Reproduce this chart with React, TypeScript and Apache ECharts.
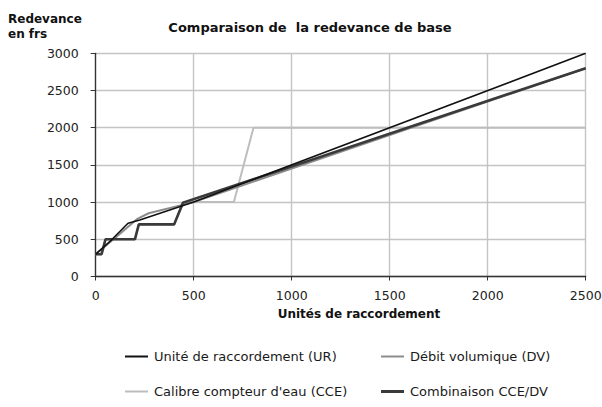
import React, { useEffect, useRef } from "react";
import * as echarts from "echarts";

const titleText = "Comparaison de  la redevance de base";
const yAxisTitle = ["Redevance", "en frs"];
const xAxisTitle = "Unités de raccordement";

const seriesNames = [
  "Unité de raccordement (UR)",
  "Débit volumique (DV)",
  "Calibre compteur d'eau (CCE)",
  "Combinaison CCE/DV",
];

// [units, redevance]
const urPoints = [
  [0, 300], [80, 490], [165, 715], [225, 760], [500, 1000], [2500, 3000],
];
const dvPoints = [
  [0, 300], [100, 520], [210, 770], [270, 850], [500, 1000], [2500, 2800],
];
const ccePoints = [
  [0, 300], [30, 300], [50, 500], [200, 500], [220, 700], [400, 700],
  [450, 1000], [705, 1000], [805, 2000], [2500, 2000],
];
const combPoints = [
  [0, 300], [30, 300], [50, 500], [200, 500], [220, 700], [400, 700],
  [445, 990], [2500, 2800],
];

const xMin = 0, xMax = 2500, xStep = 500;
const yMin = 0, yMax = 3000, yStep = 500;

const FONT = "DejaVu Sans";

export default function App() {
  const ref = useRef<HTMLDivElement>(null);
  useEffect(() => {
    if (!ref.current) return;
    const chart = echarts.init(ref.current, undefined, { renderer: "svg" });
    const colors = ["#111111", "#8c8c8c", "#bdbdbd", "#3a3a3a"];
    const widths = [1.6, 2, 2, 2.6];
    const legendPos = [
      { left: 125, top: 350 },
      { left: 381, top: 350 },
      { left: 125, top: 385 },
      { left: 381, top: 385 },
    ];
    const data = [urPoints, dvPoints, ccePoints, combPoints];
    const order = [2, 1, 3, 0];
    const fmt = (v: number) => String(v);
    chart.setOption({
      animation: false,
      backgroundColor: "#ffffff",
      textStyle: { fontFamily: FONT },
      grid: { left: 95.7, right: 16.3, top: 53.3, bottom: 130.5, outerBoundsMode: "none", containLabel: false },
      xAxis: {
        type: "value",
        min: xMin,
        max: xMax,
        interval: xStep,
        axisLine: { show: true, lineStyle: { color: "#333", width: 1.3 } },
        axisTick: { show: true, length: 4, lineStyle: { color: "#333" } },
        axisLabel: { margin: 12, color: "#222", fontSize: 12.5, fontFamily: FONT, formatter: fmt },
        splitLine: { show: true, lineStyle: { color: "#c4c4c4", width: 1.4 } },
      },
      yAxis: {
        type: "value",
        min: yMin,
        max: yMax,
        interval: yStep,
        axisLine: { show: true, lineStyle: { color: "#333", width: 1.3 } },
        axisTick: { show: true, length: 5, lineStyle: { color: "#333" } },
        axisLabel: { margin: 17, color: "#222", fontSize: 12.5, fontFamily: FONT, formatter: fmt },
        splitLine: { show: true, lineStyle: { color: "#c4c4c4", width: 1.4 } },
      },
      legend: legendPos.map((p, i) => ({
        left: p.left,
        top: p.top,
        data: [seriesNames[i]],
        icon: "rect",
        itemWidth: 23,
        itemHeight: i === 3 ? 3 : 2,
        itemGap: 0,
        padding: 0,
        selectedMode: false,
        textStyle: { fontSize: 13, color: "#1a1a1a", fontFamily: FONT, padding: [0, 0, 0, 1] },
      })),
      graphic: [
        {
          type: "text",
          x: 310,
          y: 27,
          style: {
            text: titleText,
            textAlign: "center",
            textVerticalAlign: "middle",
            font: `bold 13px "${FONT}"`,
            fill: "#111",
          },
        },
        {
          type: "text",
          x: 8,
          y: 19,
          style: {
            text: yAxisTitle[0],
            textAlign: "left",
            textVerticalAlign: "middle",
            font: `bold 12px "${FONT}"`,
            fill: "#111",
          },
        },
        {
          type: "text",
          x: 8,
          y: 34,
          style: {
            text: yAxisTitle[1],
            textAlign: "left",
            textVerticalAlign: "middle",
            font: `bold 12px "${FONT}"`,
            fill: "#111",
          },
        },
        {
          type: "text",
          x: 359,
          y: 314,
          style: {
            text: xAxisTitle,
            textAlign: "center",
            textVerticalAlign: "middle",
            font: `bold 12px "${FONT}"`,
            fill: "#111",
          },
        },
      ],
      series: order.map((i) => ({
        name: seriesNames[i],
        type: "line",
        data: data[i],
        showSymbol: false,
        symbol: "none",
        color: colors[i],
        lineStyle: { color: colors[i], width: widths[i] },
        itemStyle: { color: colors[i] },
        z: 2 + order.indexOf(i),
      })),
    });
    return () => chart.dispose();
  }, []);
  return (
    <div
      ref={ref}
      style={{ position: "fixed", left: 0, top: 0, width: 602, height: 407, background: "#fff" }}
    />
  );
}
